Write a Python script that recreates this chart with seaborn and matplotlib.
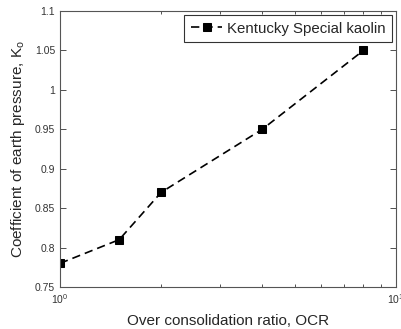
import matplotlib
matplotlib.use("Agg")
import matplotlib.pyplot as plt
import seaborn as sns
import pandas as pd
from matplotlib.ticker import LogLocator, NullFormatter, FixedLocator

ocr = [1, 1.5, 2, 4, 8]
k0 = [0.78, 0.81, 0.87, 0.95, 1.05]
series = "Kentucky Special kaolin"
yticks = [0.75, 0.8, 0.85, 0.9, 0.95, 1.0, 1.05, 1.1]
ylabels = ["0.75", "0.8", "0.85", "0.9", "0.95", "1", "1.05", "1.1"]

sns.set_theme(style="white")
plt.rcParams['font.family'] = ['Liberation Sans', 'DejaVu Sans']
plt.rcParams['mathtext.fontset'] = 'custom'
plt.rcParams['mathtext.rm'] = 'Liberation Sans'
plt.rcParams['mathtext.it'] = 'Liberation Sans'

df = pd.DataFrame({"OCR": ocr, "K0": k0, "s": series})

fig = plt.figure(figsize=(4.02, 3.29), dpi=100)
ax = fig.add_axes([60/402, 1 - 287/329, 336/402, 276/329])
sns.lineplot(data=df, x="OCR", y="K0", hue="s", palette=["black"], ax=ax,
             marker="s", markersize=5.5, markeredgecolor="black",
             dashes=False, linewidth=1.2)
for l in ax.lines:
    l.set_linestyle((0, (5, 3)))
ax.set_xscale("log")
ax.set_xlim(1, 10)
ax.set_ylim(0.75, 1.1)
ax.yaxis.set_major_locator(FixedLocator(yticks))
ax.set_yticklabels(ylabels)
ax.xaxis.set_major_locator(LogLocator(base=10))
ax.xaxis.set_minor_locator(LogLocator(base=10, subs=range(2, 10)))
ax.xaxis.set_minor_formatter(NullFormatter())
ax.tick_params(axis="both", which="both", direction="in", top=True, right=True,
               bottom=True, left=True,
               labelsize=7.5, colors="#333333", labelcolor="#333333")
ax.tick_params(which="major", length=4, width=0.6)
ax.tick_params(which="minor", length=2.5, width=0.6)
for s in ax.spines.values():
    s.set_color("#555555")
    s.set_linewidth(0.8)
ax.set_xlabel("Over consolidation ratio, OCR", fontsize=11, labelpad=6)
ax.set_ylabel("Coefficient of earth pressure, K$_\\mathrm{o}$", fontsize=11, labelpad=6)
leg = ax.legend(loc="upper right", fontsize=10.8, frameon=True, fancybox=False,
                edgecolor="black", handlelength=2.1, borderpad=0.45,
                borderaxespad=0.25, handletextpad=0.3)
leg.get_frame().set_linewidth(0.8)
for h in leg.get_lines():
    h.set_linestyle((0, (5, 3)))
fig.savefig("out.png", dpi=100)
